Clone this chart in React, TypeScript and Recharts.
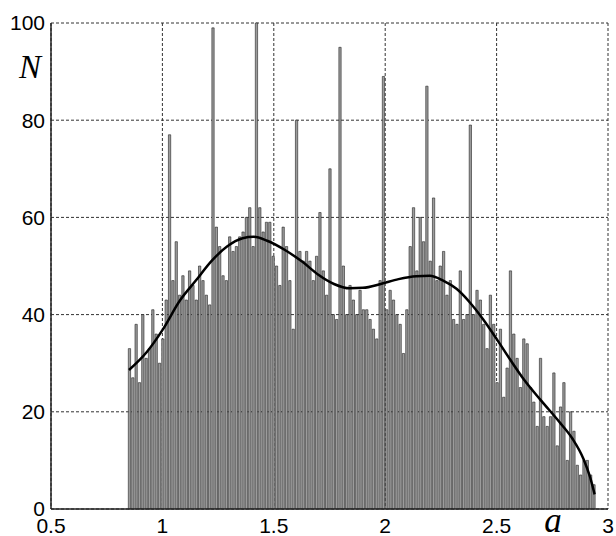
import { ComposedChart, Bar, Line, XAxis, YAxis, CartesianGrid } from 'recharts'

// histogram bins: first bin centre and bin width along a
const BIN_START = 0.85
const BIN_WIDTH = 0.015

// N per bin, read left to right
const counts = [
  33, 27, 38, 26, 40, 31, 33, 41, 36, 30, 35, 43, 77, 47, 55, 44, 48, 43, 49, 46, 43, 50, 47,
  44, 42, 99, 58, 54, 48, 47, 56, 53, 54, 56, 57, 60, 62, 54, 100, 62, 57, 59, 59, 52, 50, 46, 58,
  54, 47, 37, 80, 53, 51, 53, 51, 47, 52, 61, 49, 44, 70, 40, 39, 95, 50, 40, 46, 43, 40, 45, 41,
  41, 39, 37, 35, 47, 89, 41, 45, 43, 40, 38, 32, 41, 54, 62, 49, 60, 55, 87, 51, 64, 47, 50, 53,
  44, 47, 39, 38, 49, 39, 40, 79, 40, 45, 43, 38, 33, 44, 38, 26, 37, 23, 29, 49, 36, 31, 25, 35,
  34, 25, 22, 17, 31, 19, 17, 19, 28, 13, 21, 26, 10, 20, 16, 9, 7, 10, 10, 7, 5,
]

// smooth fitted curve
const curveA = [
  0.85, 0.93, 1.0, 1.08, 1.15, 1.22, 1.29, 1.36, 1.41, 1.47, 1.55, 1.63, 1.7, 1.77, 1.84, 1.9,
  1.98, 2.06, 2.14, 2.2, 2.26, 2.32, 2.38, 2.44, 2.5, 2.56, 2.62, 2.7, 2.78, 2.84, 2.89, 2.92, 2.94,
]
const curveN = [
  28.6, 32.3, 36.8, 43, 47, 51, 54, 55.7, 56, 55.2, 53.3, 50.8, 48.2, 46.3, 45.4, 45.5,
  46.3, 47.3, 47.9, 48, 47, 45.3, 42.5, 39, 35, 30.8, 26.8, 22.3, 18, 14.5, 10.3, 6.5, 3,
]

const xTicks = [0.5, 1, 1.5, 2, 2.5, 3]
const yTicks = [0, 20, 40, 60, 80, 100]

const bars = counts.map((n, i) => ({ a: Number((BIN_START + i * BIN_WIDTH).toFixed(4)), n }))
const curve = curveA.map((a, i) => ({ a, fit: curveN[i] }))

const tickStyle = { fontSize: 21, fill: '#000', fontFamily: '"Liberation Sans", Arial, sans-serif' }

export default function App() {
  return (
    <div style={{ position: 'absolute', left: 0, top: 0, width: 616, height: 536, background: '#fff' }}>
      <ComposedChart width={616} height={536} data={bars} margin={{ top: 23, right: 8, bottom: 0, left: 0 }}>
        <CartesianGrid stroke="#333" strokeDasharray="3 2" />
        <XAxis
          dataKey="a"
          type="number"
          domain={[0.5, 3]}
          ticks={xTicks}
          interval={0}
          tick={tickStyle}
          tickLine={false}
          tickSize={0}
          tickMargin={9}
          height={27}
          axisLine={{ stroke: '#222', strokeWidth: 1.5 }}
        />
        <XAxis xAxisId="fit" dataKey="a" type="number" domain={[0.5, 3]} hide />
        <YAxis
          type="number"
          domain={[0, 100]}
          ticks={yTicks}
          interval={0}
          tick={tickStyle}
          tickLine={false}
          tickSize={0}
          tickMargin={6}
          width={51}
          axisLine={{ stroke: '#222', strokeWidth: 1.5 }}
        />
        <Bar dataKey="n" barSize={2.3} fill="#9c9c9c" stroke="#222" strokeWidth={0.6} isAnimationActive={false} />
        <Line
          xAxisId="fit"
          data={curve}
          dataKey="fit"
          type="monotone"
          stroke="#000"
          strokeWidth={2.5}
          dot={false}
          isAnimationActive={false}
        />
      </ComposedChart>
      <svg width={616} height={536} style={{ position: 'absolute', left: 0, top: 0, pointerEvents: 'none' }}>
        <text x={30} y={78} textAnchor="middle" fontSize={33} fontStyle="italic" fontFamily='"Liberation Serif", serif'>
          N
        </text>
        <text x={553} y={532} textAnchor="middle" fontSize={35} fontStyle="italic" fontFamily='"Liberation Serif", serif'>
          a
        </text>
      </svg>
    </div>
  )
}
